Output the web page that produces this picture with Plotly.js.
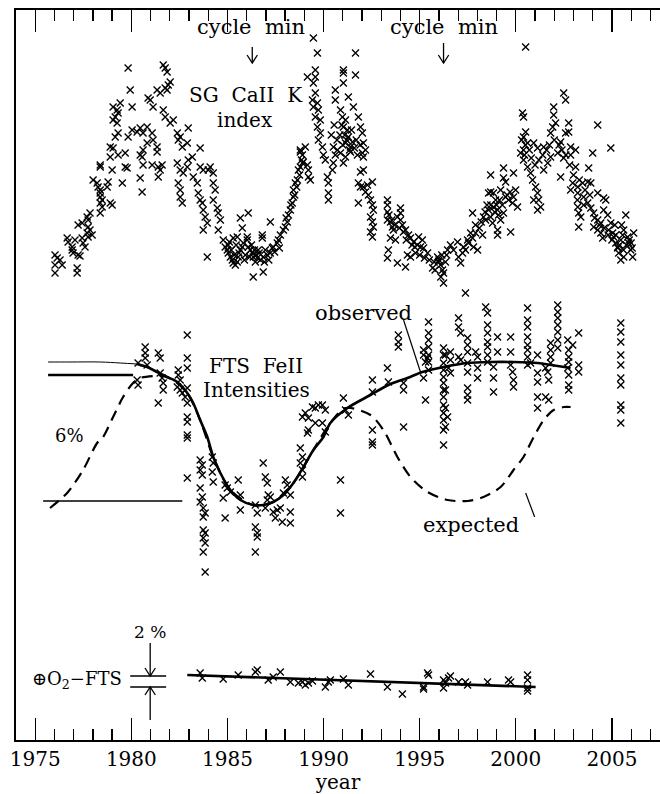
<!DOCTYPE html>
<html><head><meta charset="utf-8">
<script src="https://cdn.plot.ly/plotly-3.0.1.min.js"></script>
<style>html,body{margin:0;padding:0;background:#fff}</style>
</head><body>
<div id="chart" style="width:660px;height:794px"></div>
<script>
// Arbitrary vertical offset units (panels stacked); x in years.
const caK = [
[1976.03,485],[1976.14,482],[1976.29,480],[1976.03,475],[1976.03,467],[1976.40,475],[1977.18,472],[1977.18,467],[1976.92,490],[1976.97,487],[1977.23,485],[1977.33,484],[1976.92,493],[1976.66,502],[1976.71,498],[1977.07,500],[1977.44,502],[1977.49,497],[1977.59,493],[1977.23,515],[1977.44,517],[1977.70,523],[1977.75,520],[1977.85,527],[1977.75,513],[1977.85,510],[1977.96,505],[1977.75,503],[1977.70,507],[1978.01,560],[1978.22,557],[1978.27,553],[1978.38,550],[1978.38,547],[1978.38,543],[1978.48,540],[1978.38,537],[1978.48,533],[1978.38,527],[1978.90,537],[1979.00,535],[1978.74,553],[1978.79,558],[1978.38,575],[1978.38,573],[1978.90,583],[1979.31,585],[1979.68,587],[1979.00,570],[1979.53,557],[1979.68,573],[1979.78,572],[1980.46,585],[1980.56,583],[1980.61,575],[1980.46,562],[1980.56,548],[1981.08,575],[1981.40,573],[1981.50,570],[1981.40,563],[1981.60,575],[1981.34,588],
[1979.83,672],[1979.94,650],[1980.04,633],[1979.05,633],[1979.26,630],[1979.31,627],[1979.16,623],[1979.05,620],[1979.26,617],[1979.42,637],[1979.31,607],[1979.16,603],[1978.90,593],[1979.05,592],[1979.83,603],[1980.04,610],[1980.30,608],[1980.46,612],[1980.61,607],[1980.82,613],[1981.08,607],[1981.13,600],[1981.34,593],[1980.82,597],[1980.61,590],[1980.87,642],[1980.98,640],[1981.13,633],[1981.34,650],[1981.50,647],[1981.76,652],[1981.86,650],[1981.92,655],[1982.02,658],[1981.66,675],[1981.76,672],[1981.86,668],[1981.66,630],[1981.76,623],[1982.02,617],[1982.18,620],[1982.39,607],[1982.54,603],[1982.44,600],[1982.65,593],[1982.91,597],[1982.96,612],[1983.58,592],
[1982.39,577],[1982.54,570],[1982.44,557],[1982.54,550],[1982.54,543],[1982.65,537],[1982.70,567],[1982.91,573],[1982.96,580],[1983.17,583],[1983.22,563],[1983.43,557],[1983.48,547],[1983.58,540],[1983.69,537],[1983.74,530],[1983.84,523],[1983.95,517],[1983.74,510],[1983.58,573],[1983.74,570],[1984.00,570],[1984.10,573],[1984.26,567],[1984.26,557],[1984.36,550],[1984.26,540],[1984.47,532],[1984.52,527],[1984.63,520],[1984.52,510],[1983.95,483],
[1984.78,500],[1984.88,493],[1984.99,490],[1985.04,487],[1985.15,483],[1985.25,480],[1985.30,477],[1985.41,475],[1985.51,478],[1985.56,483],[1985.67,490],[1985.77,493],[1985.82,497],[1986.03,500],[1986.08,493],[1986.19,490],[1986.29,487],[1986.34,483],[1986.55,482],[1986.71,480],[1986.86,483],[1987.07,485],[1987.23,487],[1987.33,492],[1987.38,493],[1987.59,497],[1987.65,500],[1987.75,505],[1987.91,510],[1988.01,513],[1988.11,518],[1985.67,522],[1985.77,512],[1986.08,527],[1986.81,505],[1986.81,502],[1986.34,463],[1986.86,468],[1987.23,518],[1985.30,502],[1985.51,503],[1986.03,503],[1985.93,485],[1986.45,478],[1986.97,490],[1985.04,495],[1986.60,490],
[1985.20,490],[1985.35,485],[1985.60,487],[1985.88,480],[1986.15,483],[1986.40,490],[1986.50,485],[1986.65,487],[1986.92,478],[1987.15,480],[1987.45,488],[1987.70,492],[1985.45,495],[1985.10,498],[1986.25,495],
[1988.17,525],[1988.27,530],[1988.37,537],[1988.43,543],[1988.43,550],[1988.53,557],[1988.64,560],[1988.69,570],[1988.79,573],[1988.90,577],[1988.95,578],[1989.16,575],[1989.21,570],[1989.21,563],[1989.31,560],[1988.79,588],[1988.90,585],[1989.99,585],[1990.09,580],[1990.20,563],[1990.25,557],[1990.25,547],[1990.25,540],
[1988.05,522],[1988.30,535],[1988.50,545],[1988.60,553],[1988.75,565],[1988.85,580],
[1989.47,702],[1989.68,687],[1989.57,670],[1989.57,663],[1989.47,657],[1989.57,647],[1989.42,640],[1989.47,633],[1989.68,637],[1989.73,630],[1989.57,623],[1989.83,620],[1989.68,613],[1989.83,607],[1989.73,600],[1989.94,593],[1989.16,663],[1988.79,590],[1989.05,593],
[1991.66,687],[1991.66,665],[1991.03,670],[1991.03,667],[1991.03,657],[1990.61,650],[1990.61,640],[1991.29,643],[1991.55,633],[1990.88,630],[1990.98,623],[1991.14,620],[1991.03,613],[1991.24,610],[1991.29,603],[1991.14,597],[1991.40,593],[1991.81,623],[1991.92,613],[1992.02,607],[1992.07,597],[1992.18,590],[1990.51,593],[1990.72,590],[1990.61,585],[1990.88,587],[1991.14,583],[1991.40,588],[1991.76,585],[1992.02,587],[1992.07,583],[1990.46,570],[1990.51,577],[1991.03,577],[1991.92,568],[1992.07,570],[1991.81,557],[1991.92,553],[1992.07,553],[1992.28,555],[1992.54,558],[1992.18,548],[1992.33,545],[1992.44,540],[1992.54,535],[1992.59,530],[1992.44,523],[1992.54,518],[1992.59,513],[1992.44,508],[1992.54,503],[1991.81,537],
[1990.70,600],[1990.85,605],[1991.00,595],[1991.20,600],[1991.35,590],[1991.50,598],[1991.60,592],[1991.70,600],[1991.90,595],[1990.95,615],[1991.10,605],[1991.45,610],[1990.40,605],[1990.55,615],
[1993.32,540],[1993.32,535],[1993.32,528],[1993.32,520],[1993.48,518],[1993.58,513],[1993.63,510],[1993.84,523],[1994.00,532],[1994.00,527],[1994.00,520],[1994.10,515],[1994.26,510],[1994.42,505],[1994.52,502],[1994.68,498],[1994.88,495],[1995.04,493],[1995.20,492],[1995.41,487],[1995.14,500],[1994.94,503],[1993.48,502],[1993.74,500],[1993.37,490],[1993.32,482],[1993.84,477],[1994.26,473],[1994.36,485],[1994.52,483],[1994.78,487],[1995.67,472],[1995.93,483],[1995.98,478],[1996.08,475],[1996.19,470],[1996.24,467],[1996.34,478],[1996.24,457],[1997.38,447],
[1993.40,525],[1993.55,520],[1993.70,515],[1993.95,512],[1994.15,508],[1994.30,500],[1994.60,495],[1994.75,493],[1995.00,485],[1995.25,482],[1995.50,480],[1995.75,478],[1996.00,480],[1996.15,485],[1996.40,485],[1995.80,470],[1996.10,463],[1996.45,490],
[1996.60,495],[1996.76,490],[1996.97,498],[1997.02,483],[1997.13,477],[1997.23,487],[1997.28,493],[1997.38,490],[1997.49,500],[1997.54,497],[1997.65,507],[1997.75,502],[1997.80,493],[1998.01,490],[1997.91,507],[1998.27,505],[1998.32,523],[1998.43,520],[1998.58,530],[1998.69,523],[1998.79,517],[1998.84,533],[1998.95,540],[1999.05,530],[1999.10,525],[1999.21,520],[1999.36,527],[1999.47,543],[1999.62,540],[1999.83,537],[1999.88,543],[1999.99,550],[2000.09,533],[1999.05,510],[1999.05,505],[1999.73,508],[1998.69,548],[1998.69,565],[1999.36,572],[1999.36,562],[1999.47,558],[1999.88,567],[1997.75,527],[1998.58,547],[1998.84,547],[1999.21,550],
[1997.90,515],[1998.10,512],[1998.20,518],[1998.40,528],[1998.50,535],[1998.70,535],[1998.90,528],[1999.00,535],[1999.15,540],[1999.30,535],[1999.55,545],[1999.70,548],
[2000.35,627],[2000.40,623],[2000.51,608],[2000.40,603],[2000.61,597],[2000.40,590],[2000.93,597],[2001.13,592],[2001.45,593],[2001.81,607],[2001.92,613],[2001.97,625],[2001.97,633],[2002.07,617],[2002.33,598],[2002.49,647],[2002.59,640],[2002.59,607],[2002.75,617],[2002.75,608],[2002.85,593],[2003.11,590],[2004.26,615],[2004.00,587],[2004.94,592],[2000.51,693],[2000.25,587],[2000.40,580],[2000.61,573],[2000.77,567],[2000.87,560],[2001.03,553],[2001.13,547],[2001.19,540],[2001.13,530],[2000.93,540],[2001.29,533],[2001.45,570],[2001.66,577],[2001.81,583],[2002.18,587],[2002.49,582],[2002.85,585],[2003.11,573],[2002.96,557],[2003.22,553],[2003.48,557],[2003.74,558],[2003.79,572],[2002.33,563],[2002.85,550],[2003.22,547],[2003.53,543],[2003.90,557],[2004.26,547],[2004.57,542],
[2000.30,600],[2000.50,595],[2000.70,590],[2000.80,582],[2000.45,585],[2001.00,575],[2001.20,580],[2001.40,585],[2001.60,590],[2001.75,595],[2002.00,600],[2002.25,595],[2002.40,590],[2002.60,585],[2002.80,575],[2003.00,565],[2003.30,560],[2003.60,550],[2003.85,545],[2003.20,540],
[2003.22,533],[2003.27,527],[2003.27,513],[2003.38,523],[2003.53,535],[2003.74,537],[2003.90,532],[2004.05,527],[2004.26,520],[2004.42,517],[2004.05,513],[2004.26,510],[2004.42,507],[2004.52,502],[2004.57,530],[2004.68,540],[2004.78,525],[2004.94,517],[2005.04,507],[2004.83,510],[2005.09,503],[2005.20,497],[2005.30,492],[2005.35,487],[2005.46,500],[2005.56,505],[2005.61,510],[2005.72,525],[2005.82,503],[2005.87,497],[2005.98,490],[2006.08,483],[2006.13,507],[2005.61,483],[2005.46,480],[2005.30,493],
[2004.10,522],[2004.35,515],[2004.60,512],[2004.80,505],[2005.00,500],[2005.20,505],[2005.40,495],[2005.60,490],[2005.75,495],[2005.90,500],[2006.00,497],[2005.50,515],[2005.15,515],[2006.05,492]
];

const feII = [
[1980.72,393],[1980.72,387],[1980.72,382],[1980.82,375],[1980.35,377],[1980.30,360],[1980.35,355],[1981.40,387],[1981.50,382],[1981.50,367],[1981.60,362],[1981.66,357],[1981.66,350],[1981.40,337],[1982.44,370],[1982.44,365],[1982.54,360],[1982.39,353],[1982.54,350],[1982.65,347],[1982.91,405],[1982.91,382],[1982.91,372],[1982.91,352],[1982.80,343],[1982.91,337],[1982.91,323],[1982.91,318],[1982.91,305],[1982.91,302],[1982.91,262],
[1983.58,280],[1983.69,275],[1983.58,270],[1983.69,265],[1983.58,252],[1983.69,243],[1983.58,238],[1983.74,232],[1983.84,227],[1983.74,223],[1983.74,210],[1983.84,207],[1983.74,202],[1983.84,197],[1983.74,188],[1983.84,168],
[1984.21,283],[1984.26,277],[1984.21,268],[1984.26,258],[1984.88,255],[1984.99,252],[1984.78,242],[1984.88,222],[1985.15,248],[1985.56,260],[1985.67,245],[1985.67,230],[1986.45,235],[1986.55,227],[1986.45,213],[1986.55,207],[1986.45,188],[1986.55,203],[1986.86,277],[1986.97,263],[1987.07,257],[1987.12,245],[1987.07,240],[1987.23,243],[1986.97,232],[1987.38,228],[1987.59,230],[1987.75,232],[1987.49,222],[1987.85,218],[1988.01,260],[1988.11,255],[1987.91,247],[1988.27,245],[1988.27,228],[1988.27,217],
[1988.79,292],[1988.90,283],[1988.79,277],[1988.90,270],[1988.90,263],[1989.16,307],[1990.09,308],[1988.90,323],[1989.05,327],[1989.21,322],[1989.42,333],[1989.57,332],[1989.73,335],[1989.94,335],[1990.09,330],[1989.94,317],[1989.57,317],[1989.21,310],
[1991.03,342],[1991.14,330],[1991.29,325],[1992.54,310],[1992.54,298],[1992.54,295],[1996.24,310],[1996.24,295],[1990.88,260],[1990.88,227],
[1993.89,405],[1993.89,398],[1993.89,393],[1994.16,313],[1993.32,372],[1993.37,358],[1992.54,360],[1992.54,348],[1994.16,357],[1994.16,350],
[1995.20,390],[1995.20,385],[1995.41,382],[1995.30,378],[1995.20,362],[1995.30,340],[1995.46,418],[1995.46,407],[1995.46,400],[1995.46,393],[1995.46,385],[1995.46,378],[1995.46,370],
[1996.24,392],[1996.34,385],[1996.24,377],[1996.24,370],[1996.24,363],[1996.24,357],[1996.34,350],[1996.24,343],[1996.34,332],[1996.24,320],[1996.34,313],[1996.45,323],[1996.50,372],[1996.60,388],[1996.60,380],[1996.60,367],[1996.24,385],[1996.24,350],[1996.24,335],[1996.24,327],
[1997.02,422],[1997.02,413],[1997.13,407],[1997.02,383],[1997.13,380],[1997.49,402],[1997.49,395],[1997.49,388],[1997.49,377],[1997.49,368],[1997.49,352],[1997.49,345],[1997.49,340],[1997.91,388],[1998.01,383],[1998.01,372],[1998.01,362],
[1998.43,433],[1998.53,427],[1998.53,415],[1998.53,407],[1998.53,398],[1998.53,393],[1998.53,385],[1998.53,378],[1999.05,403],[1999.05,388],[1998.84,373],[1998.84,362],[1998.84,348],[1999.73,403],[1999.73,388],[1999.73,375],[1999.83,368],[1999.88,360],[1999.88,353],
[2000.61,432],[2000.61,420],[2000.61,413],[2000.61,403],[2000.61,395],[2000.61,390],[2000.61,383],[2000.61,375],[2000.77,377],[2001.13,385],[2001.13,367],[2001.13,358],[2001.13,343],[2001.13,332],[2001.55,343],[2001.71,340],[2001.55,372],[2001.66,368],[2001.81,397],[2001.81,390],[2001.81,383],[2001.81,377],[2001.71,360],
[2002.18,435],[2002.18,428],[2002.18,422],[2002.18,415],[2002.18,408],[2002.18,400],[2002.18,392],[2002.70,400],[2002.75,390],[2002.75,383],[2002.75,378],[2002.75,365],[2002.96,395],[2003.27,407],[2003.27,375],[2003.27,368],[2002.75,355],[2002.75,350],[2002.70,372],
[2005.46,417],[2005.46,408],[2005.46,398],[2005.46,385],[2005.46,375],[2005.46,362],[2005.46,355],[2005.46,335],[2005.46,330],[2005.46,317]
];

const o2fts = [
[1983.58,67],[1983.69,62],[1984.78,61],[1985.56,65],[1986.45,68],[1986.55,70],[1987.12,60],[1987.38,63],[1987.75,68],[1988.27,58],[1988.69,57],[1988.90,58],[1989.05,55],[1989.21,57],[1989.42,59],[1990.09,53],[1990.25,58],[1990.35,60],[1991.03,61],[1991.29,55],[1992.44,66],[1993.32,53],[1994.10,46],[1995.20,53],[1995.20,51],[1995.41,67],[1995.46,65],[1996.24,60],[1996.24,52],[1996.34,57],[1996.50,62],[1996.60,64],[1997.02,58],[1997.38,58],[1997.49,55],[1998.53,58],[1999.62,60],[1999.73,58],[2000.61,65],[2000.61,60],[2000.61,52],[2000.61,49]
];

const obsThinYear = [1975.67,1976.81,1978.38,1979.42,1980.30];
const obsThinVal  = [378,378,378,377,376];
const obsYear = [1980.30,1980.82,1981.34,1981.86,1982.39,1982.91,1983.22,1983.58,1983.95,1984.26,1984.63,1985.15,1985.67,1986.34,1986.86,1987.38,1987.91,1988.43,1988.95,1989.47,1989.99,1990.35,1991.24,1992.44,1993.37,1994.36,1995.14,1996.24,1997.49,1998.69,1999.88,2001.13,2002.18,2002.85];
const obsVal  = [376,373,368,363,358,347,337,320,303,283,267,250,240,235,235,238,245,257,273,290,303,317,332,345,355,362,368,373,377,378,378,377,374,372];
const expYear = [1975.77,1976.66,1977.49,1978.22,1978.53,1979.05,1979.57,1980.09,1980.46,1981.13,1981.66,1982.18,1982.91,1983.58,1984.26,1985.15,1986.34,1987.38,1988.43,1989.47,1990.35,1991.14,1992.44,1993.11,1993.84,1994.52,1995.41,1996.45,1997.49,1998.32,1999.21,1999.88,2000.40,2000.93,2001.45,2001.97,2002.49,2002.85];
const expVal  = [232,247,270,297,303,323,343,357,362,364,364,360,347,320,283,250,235,238,257,290,317,332,325,310,283,263,248,240,239,243,253,270,283,303,320,330,333,333];
const o2FitYear = [1982.91,2001.03];
const o2FitVal  = [65,53];

const xTickVals = [1975,1980,1985,1990,1995,2000,2005];
const xTickText = ['1975','1980','1985','1990','1995','2000','2005'];

const mk = {symbol:'x-thin-open', size:7, color:'black', line:{width:1.35, color:'black'}};
const traces = [
  {x:caK.map(p=>p[0]), y:caK.map(p=>p[1]), mode:'markers', type:'scatter', marker:mk, hoverinfo:'skip'},
  {x:expYear, y:expVal, mode:'lines', line:{color:'black', width:2.2, dash:'11px,7px', shape:'spline', smoothing:0.8}, hoverinfo:'skip'},
  {x:feII.map(p=>p[0]), y:feII.map(p=>p[1]), mode:'markers', type:'scatter', marker:mk, hoverinfo:'skip'},
  {x:obsThinYear, y:obsThinVal, mode:'lines', line:{color:'black', width:1, shape:'spline'}, hoverinfo:'skip'},
  {x:obsYear, y:obsVal, mode:'lines', line:{color:'black', width:2.6, shape:'spline', smoothing:0.8}, hoverinfo:'skip'},
  {x:o2fts.map(p=>p[0]), y:o2fts.map(p=>p[1]), mode:'markers', type:'scatter', marker:mk, hoverinfo:'skip'},
  {x:o2FitYear, y:o2FitVal, mode:'lines', line:{color:'black', width:2.6}, hoverinfo:'skip'}
];

// decorations (scale bars, leaders, arrows)
const segs = [
  {x0:1975.67,x1:1980.09,y0:365,y1:365,w:2.5},
  {x0:1975.41,x1:1982.65,y0:239,y1:239,w:1.5},
  {x0:1979.94,x1:1981.81,y0:64,y1:64,w:1.5},
  {x0:1979.94,x1:1981.81,y0:53,y1:53,w:1.5},
  {x0:1994.16,x1:1995.04,y0:420,y1:368,w:1.2},
  {x0:2000.51,x1:2000.98,y0:247,y1:223,w:1.2}
];
const arrows = [
  {x:1986.29,y0:693,y1:677},
  {x:1996.24,y0:697,y1:677},
  {x:1980.98,y0:97,y1:64},
  {x:1980.98,y0:20,y1:53}
];
const shapes = [];
segs.forEach(s=>shapes.push({type:'line',xref:'x',yref:'y',x0:s.x0,x1:s.x1,y0:s.y0,y1:s.y1,line:{color:'black',width:s.w}}));
arrows.forEach(a=>{
  const d = Math.sign(a.y1-a.y0);
  shapes.push({type:'line',xref:'x',yref:'y',x0:a.x,x1:a.x,y0:a.y0,y1:a.y1,line:{color:'black',width:1.3}});
  shapes.push({type:'path',xref:'x',yref:'y',path:`M${a.x-0.27},${a.y1-d*8} L${a.x},${a.y1} L${a.x+0.27},${a.y1-d*8}`,line:{color:'black',width:1.3}});
});

const txt = (text,x,y,size,anchor)=>({text:text,x:x,y:y,xref:'x',yref:'y',showarrow:false,xanchor:anchor||'center',yanchor:'middle',font:{family:'DejaVu Serif',size:size,color:'black'}});
const annotations = [
  txt('cycle\u00A0\u00A0min',1986.24,713,21),
  txt('cycle\u00A0\u00A0min',1996.24,713,21),
  txt('SG\u00A0\u00A0CaII\u00A0\u00A0K',1985.98,645,20),
  txt('index',1985.93,620,20),
  txt('FTS\u00A0\u00A0FeII',1986.50,374,20),
  txt('Intensities',1986.50,350,20),
  txt('observed',1992.07,427,21),
  txt('expected',1997.65,215,21),
  txt('6%',1976.76,305,18),
  txt('2\u00A0%',1980.98,108,17),
  txt('⊕O<sub>2</sub>−FTS',1979.62,60,18,'right')
];

const layout = {
  width:660, height:794,
  margin:{l:16, r:0, t:10, b:54},
  paper_bgcolor:'white', plot_bgcolor:'white',
  showlegend:false,
  font:{family:'DejaVu Serif', size:20, color:'black'},
  xaxis:{range:[1974,2007.5], showgrid:false, zeroline:false, showline:true, linewidth:2, linecolor:'black',
         mirror:'ticks', ticks:'inside', ticklen:22, tickwidth:1.3, tickcolor:'black',
         tickmode:'array', tickvals:xTickVals, ticktext:xTickText,
         minor:{dtick:1, tick0:1975, ticklen:11, tickwidth:1.3, ticks:'inside', tickcolor:'black', showgrid:false},
         tickfont:{family:'DejaVu Serif', size:20, color:'black'},
         title:{text:'year', font:{family:'DejaVu Serif', size:20, color:'black'}, standoff:2}},
  yaxis:{range:[0,730], showgrid:false, zeroline:false, showline:true, linewidth:2, linecolor:'black',
         showticklabels:false, ticks:''},
  shapes:shapes,
  annotations:annotations
};
Plotly.newPlot('chart', traces, layout, {staticPlot:true, displayModeBar:false});
</script>
</body></html>
